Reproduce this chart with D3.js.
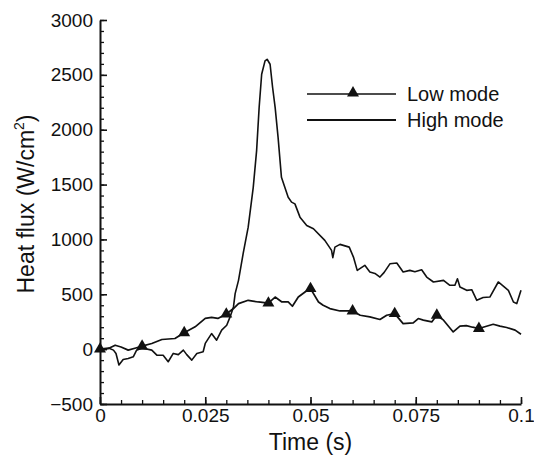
<!DOCTYPE html>
<html>
<head>
<meta charset="utf-8">
<script src="https://cdn.jsdelivr.net/npm/d3@7"></script>
<style>
  body { margin: 0; background: #fff; }
  text { font-family: "Liberation Sans", Arial, sans-serif; fill: #111; }
</style>
</head>
<body>
<div id="chart"></div>
<script>
// Low mode curve (time in s, heat flux in W/cm2)
const lowT = [0, 0.002, 0.0036, 0.005, 0.0067, 0.0085, 0.01, 0.0123, 0.0147, 0.0178,
    0.02, 0.0226, 0.025, 0.0265, 0.028, 0.03, 0.0317, 0.0329, 0.0352, 0.0376,
    0.04, 0.0416, 0.0432, 0.0447, 0.0457, 0.0471, 0.0487, 0.05, 0.0519, 0.053,
    0.0546, 0.057, 0.06, 0.0618, 0.0641, 0.0665, 0.0681, 0.07, 0.072, 0.0744,
    0.0756, 0.0768, 0.0788, 0.08, 0.0816, 0.0839, 0.0855, 0.087, 0.0885, 0.09,
    0.0918, 0.0934, 0.095, 0.0966, 0.0986, 0.1];
const lowV = [0, 5, 36, 20, -9, 10, 27, 51, 88, 97,
    150, 203, 280, 290, 280, 320, 370, 415, 445, 430,
    420, 475, 430, 430, 391, 475, 521, 552, 430, 400,
    370, 348, 348, 309, 294, 270, 309, 324, 233, 239,
    279, 265, 248, 309, 264, 157, 209, 215, 200, 188,
    209, 227, 210, 197, 173, 136];

// High mode curve
const highT = [0, 0.002, 0.0032, 0.0038, 0.0045, 0.0055, 0.0067, 0.0079, 0.0087, 0.01,
    0.0123, 0.0135, 0.015, 0.0162, 0.0174, 0.0186, 0.0198, 0.0206, 0.0218, 0.023,
    0.0245, 0.025, 0.0265, 0.0277, 0.0289, 0.0301, 0.0309, 0.0317, 0.0321, 0.0329,
    0.034, 0.0352, 0.0364, 0.0372, 0.0378, 0.0384, 0.0392, 0.0397, 0.0404, 0.041,
    0.0416, 0.0423, 0.0431, 0.0439, 0.0447, 0.0455, 0.0463, 0.0475, 0.0491, 0.0507,
    0.0534, 0.055, 0.0553, 0.0558, 0.057, 0.0592, 0.0602, 0.0611, 0.0629, 0.0641,
    0.0653, 0.0665, 0.0675, 0.0689, 0.0705, 0.072, 0.0736, 0.0748, 0.0764, 0.0776,
    0.0792, 0.0816, 0.0831, 0.0843, 0.0849, 0.0855, 0.0871, 0.0883, 0.0895, 0.091,
    0.0926, 0.0946, 0.0958, 0.097, 0.0982, 0.099, 0.1];
const highV = [0, 10, -9, -40, -145, -94, -85, -70, -9, 10,
    -9, -55, -55, -115, -39, -50, -9, -50, -100, -40,
    -24, 52, 142, 82, 173, 218, 294, 385, 506, 627,
    870, 1112, 1475, 1809, 2203, 2506, 2627, 2642, 2597, 2385,
    2203, 1930, 1566, 1475, 1385, 1340, 1324, 1203, 1127, 1097,
    991, 900, 834, 930, 955, 930, 839, 718, 764, 703,
    690, 657, 700, 779, 785, 703, 718, 705, 724, 657,
    612, 627, 582, 582, 642, 567, 536, 542, 445, 470,
    475, 612, 575, 536, 430, 415, 536];

// triangle markers on the low mode curve
const markerT = [0, 0.01, 0.02, 0.03, 0.04, 0.05, 0.06, 0.07, 0.08, 0.09];

const xTicks = [0, 0.025, 0.05, 0.075, 0.1];
const xTickLabels = ["0", "0.025", "0.05", "0.075", "0.1"];
const yTicks = [-500, 0, 500, 1000, 1500, 2000, 2500, 3000];
const legendNames = ["Low mode", "High mode"];

const W = 534, H = 457;
const margin = { top: 20, right: 13, bottom: 53, left: 100 };
const width = W - margin.left - margin.right;
const height = H - margin.top - margin.bottom;

const svg = d3.select("#chart").append("svg")
    .attr("width", W)
    .attr("height", H);

const g = svg.append("g")
    .attr("transform", `translate(${margin.left},${margin.top})`);

const x = d3.scaleLinear().domain([0, 0.1]).range([0, width]);
const y = d3.scaleLinear().domain([-500, 3000]).range([height, 0]);

// minor ticks
const xMinor = d3.range(0, 0.1001, 0.005);
const yMinor = d3.range(-500, 3001, 100);

g.append("g")
    .attr("transform", `translate(0,${height})`)
    .call(d3.axisBottom(x).tickValues(xMinor).tickSize(-4).tickFormat(""))
    .call(a => a.select(".domain").remove())
    .selectAll("line").attr("stroke", "#111").attr("stroke-width", 1.3);

g.append("g")
    .call(d3.axisLeft(y).tickValues(yMinor).tickSize(-4).tickFormat(""))
    .call(a => a.select(".domain").remove())
    .selectAll("line").attr("stroke", "#111").attr("stroke-width", 1.3);

// major axes
const xAxis = g.append("g")
    .attr("transform", `translate(0,${height})`)
    .call(d3.axisBottom(x).tickValues(xTicks).tickSizeInner(-7).tickSizeOuter(0)
        .tickPadding(4).tickFormat((d, i) => xTickLabels[i]));

const yAxis = g.append("g")
    .call(d3.axisLeft(y).tickValues(yTicks).tickSizeInner(-7).tickSizeOuter(0)
        .tickPadding(7).tickFormat(d => d < 0 ? "\u2212" + Math.abs(d) : d));

[xAxis, yAxis].forEach(a => {
    a.select(".domain").attr("stroke", "#111").attr("stroke-width", 2);
    a.selectAll(".tick line").attr("stroke", "#111").attr("stroke-width", 1.6);
    a.selectAll(".tick text")
        .style("font-family", "'Liberation Sans', Arial, sans-serif")
        .style("font-size", "19px")
        .attr("fill", "#111");
});
xAxis.selectAll(".tick text").attr("dy", "0.72em");

// curves
const line = d3.line().x(d => x(d[0])).y(d => y(d[1]));

const lowData = lowT.map((t, i) => [t, lowV[i]]);
const highData = highT.map((t, i) => [t, highV[i]]);

g.append("path")
    .datum(highData)
    .attr("d", line)
    .attr("fill", "none")
    .attr("stroke", "#111")
    .attr("stroke-width", 1.6)
    .attr("stroke-linejoin", "round");

g.append("path")
    .datum(lowData)
    .attr("d", line)
    .attr("fill", "none")
    .attr("stroke", "#111")
    .attr("stroke-width", 1.7)
    .attr("stroke-linejoin", "round");

const tri = d3.symbol().type(d3.symbolTriangle).size(62);

g.selectAll(".marker")
    .data(markerT.map(t => [t, lowV[lowT.indexOf(t)]]))
    .enter().append("path")
    .attr("class", "marker")
    .attr("d", tri)
    .attr("transform", d => `translate(${x(d[0])},${y(d[1])})`)
    .attr("fill", "#111");

// axis titles
svg.append("text")
    .attr("x", margin.left + width / 2)
    .attr("y", 450)
    .attr("text-anchor", "middle")
    .style("font-size", "23px")
    .text("Time (s)");

const yTitle = svg.append("text")
    .attr("transform", "translate(34,204) rotate(-90)")
    .attr("text-anchor", "middle")
    .style("font-size", "23px");
yTitle.append("tspan").text("Heat flux (W/cm");
yTitle.append("tspan").attr("dy", -10).style("font-size", "14px").text("2");
yTitle.append("tspan").attr("dy", 10).text(")");

// legend
const legend = svg.append("g").attr("transform", "translate(307,94)");
legendNames.forEach((name, i) => {
    const row = legend.append("g").attr("transform", `translate(0,${i * 26})`);
    row.append("line")
        .attr("x1", 0).attr("x2", 89)
        .attr("stroke", "#111")
        .attr("stroke-width", i === 0 ? 1.7 : 2.2);
    if (i === 0) {
        row.append("path").attr("d", tri).attr("transform", "translate(46,-1)").attr("fill", "#111");
    }
    row.append("text")
        .attr("x", 100)
        .attr("dy", "0.36em")
        .style("font-size", "20px")
        .text(name);
});
</script>
</body>
</html>
